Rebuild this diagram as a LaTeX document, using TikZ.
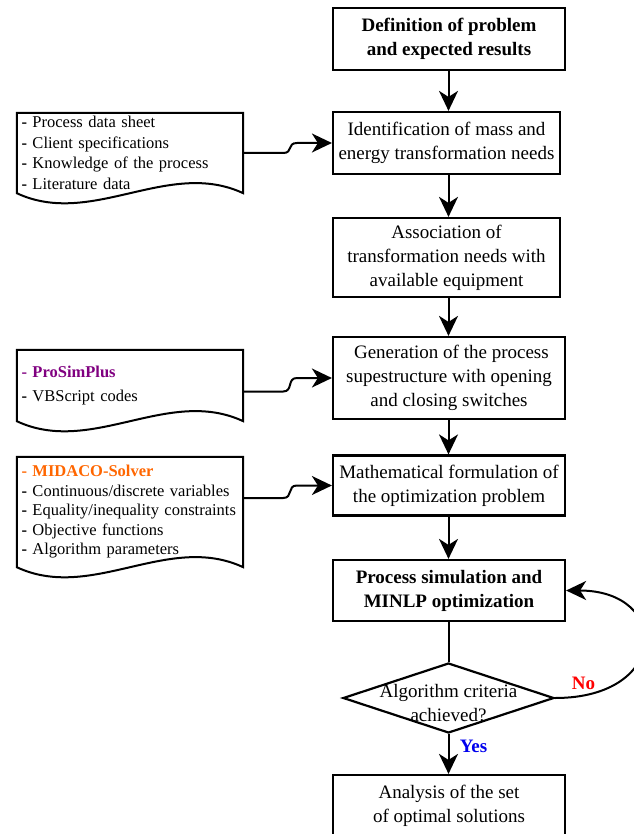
\documentclass[tikz,border=0pt]{standalone}
\usepackage{fontspec}
\setmainfont{Liberation Serif}
\usetikzlibrary{shapes.geometric,arrows.meta,calc}
\definecolor{prosim}{HTML}{800080}
\definecolor{midaco}{HTML}{FF6600}
\definecolor{nored}{HTML}{FF0000}
\definecolor{yesblue}{HTML}{0000EE}

% outline of a document-like shape with a wavy bottom edge
\newcommand\docoutline[1]{%
  \draw[docline] (#1.north west) -- (#1.north east) -- (#1.south east)
    .. controls ($(#1.south east)+(-75,-35)$) and ($(#1.south west)+(75,35)$) ..
    (#1.south west) -- cycle;}

\begin{document}
\begin{tikzpicture}[x=1pt,y=-1pt,
  stepbox/.style={draw, line width=2.2pt, inner sep=0pt, align=center,
    font=\fontsize{19}{24}\selectfont},
  wide/.style={minimum width=232},
  narrow/.style={minimum width=227},
  decision/.style={diamond, draw, line width=2.2pt, minimum width=211,
    minimum height=70, inner sep=0pt},
  doctext/.style={minimum width=226, text width=217, inner sep=0pt,
    align=left, font=\fontsize{16.5}{20.5}\selectfont},
  docline/.style={line width=2pt, line join=miter},
  ln/.style={line width=2pt},
  arr/.style={line width=2pt, -{Stealth[length=20pt,width=19pt,inset=6pt]}},
  answer/.style={font=\fontsize{19}{24}\selectfont\bfseries}
]
\useasboundingbox (0,0) rectangle (633,834);
\coordinate (col) at (448.5,0);

% main column
\node[stepbox, wide, minimum height=62] (b1) at (449,39)
  {\bfseries Definition of problem\\\bfseries and expected results};
\node[stepbox, narrow, minimum height=62] (b2) at (446.5,143)
  {Identification of mass and\\energy transformation needs};
\node[stepbox, narrow, minimum height=79] (b3) at (446.5,257.5)
  {Association of\\transformation needs with\\available equipment};
\node[stepbox, wide, minimum height=82] (b4) at (449,378)
  {\ Generation of the process\\supestructure with opening\\and closing switches};
\node[stepbox, wide, minimum height=60] (b5) at (449,485.5)
  {Mathematical formulation of\\the optimization problem};
\node[stepbox, wide, minimum height=61] (b6) at (449,590.5)
  {\bfseries Process simulation and\\\bfseries MINLP optimization};
\node[decision] (dec) at (448.5,698) {};
\node[font=\fontsize{19}{24}\selectfont, align=center] (dectext) at (448.5,703)
  {Algorithm criteria\\achieved?};
\node[stepbox, wide, minimum height=61] (b8) at (449,805.5)
  {Analysis of the set\\of optimal solutions};

% input documents
\node[doctext, minimum height=80] (d1) at (130,153)
  {\textbf{-} Process data sheet\\\textbf{-} Client specifications\\
   \textbf{-} Knowledge of the process\\\textbf{-} Literature data};
\node[doctext, minimum height=71] (d2) at (130,385.5)
  {\textcolor{prosim}{\bfseries - ProSimPlus}\\[4pt]\textbf{-} VBScript codes};
\node[doctext, minimum height=110, font=\fontsize{16.5}{19.5}\selectfont] (d3) at (130,512)
  {\textcolor{midaco}{\bfseries - MIDACO-Solver}\\\textbf{-} Continuous/discrete variables\\
   \textbf{-} Equality/inequality constraints\\\textbf{-} Objective functions\\
   \textbf{-} Algorithm parameters};
\docoutline{d1}
\docoutline{d2}
\docoutline{d3}

% flow of the main column
\draw[arr] (b1.south -| col) -- (b2.north -| col);
\draw[arr] (b2.south -| col) -- (b3.north -| col);
\draw[arr] (b3.south -| col) -- (b4.north -| col);
\draw[arr] (b4.south -| col) -- (b5.north -| col);
\draw[arr] (b5.south -| col) -- (b6.north -| col);
\draw[ln]  (b6.south -| col) -- (dec.north);
\draw[arr] (dec.south) -- (b8.north -| col);
\node[answer, text=yesblue] (yes) at (473.5,746) {Yes};

% loop back when the criteria are not met
\draw[arr] (dec.east) .. controls +(115,0) and ($(b6.east)+(105,0)$) .. (b6.east);
\node[answer, text=nored] (no) at (583.5,683) {No};

% documents feeding the steps
\draw[arr] (d1.east) -- ($(d1.east)+(40,0)$)
  .. controls ($(d1.east)+(50,0)$) and ($(b2.west)+(-45,0)$) .. ($(b2.west)+(-35,0)$)
  -- (b2.west);
\draw[arr] ($(d2.east)+(0,6)$) -- ($(d2.east)+(40,6)$)
  .. controls ($(d2.east)+(50,6)$) and ($(b4.west)+(-45,0)$) .. ($(b4.west)+(-35,0)$)
  -- (b4.west);
\draw[arr] ($(d3.east)+(0,-14)$) -- ($(d3.east)+(40,-14)$)
  .. controls ($(d3.east)+(50,-14)$) and ($(b5.west)+(-45,0)$) .. ($(b5.west)+(-35,0)$)
  -- (b5.west);
\end{tikzpicture}
\end{document}
